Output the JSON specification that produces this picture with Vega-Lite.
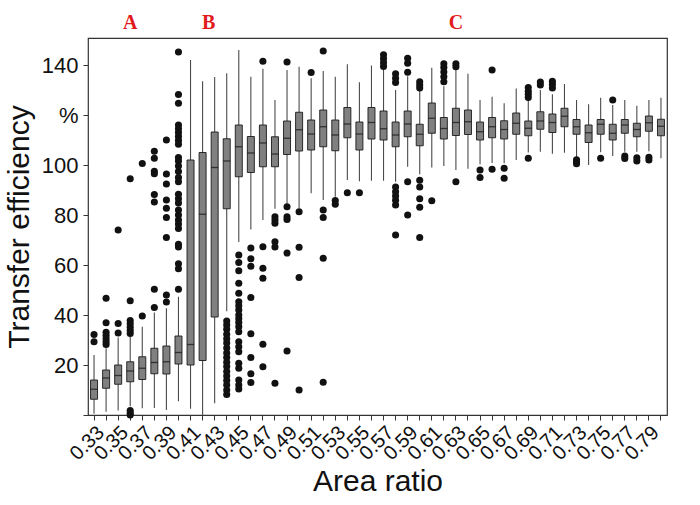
{
  "$schema": "https://vega.github.io/schema/vega-lite/v6.json",
  "width": 579,
  "height": 377,
  "autosize": {"type": "none"},
  "padding": {"left": 88, "top": 38, "right": 33, "bottom": 90},
  "config": {
    "view": {"stroke": "#333333", "strokeWidth": 1.2},
    "font": "Liberation Sans",
    "axis": {"grid": false, "domain": false, "tickColor": "#333333", "labelColor": "#111111", "titleColor": "#111111", "titleFontWeight": "normal"},
    "axisY": {
      "title": "Transfer efficiency",
      "titleFontSize": 30,
      "titlePadding": 7,
      "labelFontSize": 22,
      "labelPadding": 5,
      "tickSize": 5,
      "values": [0, 20, 40, 60, 80, 100, 120, 140],
      "labelExpr": "datum.value == 120 ? '%' : (datum.value == 0 ? '' : datum.label)"
    }
  },
  "datasets": {
    "boxes": [
      {"r": "0.33", "lo": 0.5, "q1": 6.3, "med": 10.3, "q3": 14, "hi": 24},
      {"r": "0.34", "lo": 1.3, "q1": 10.7, "med": 14.8, "q3": 18, "hi": 26.7},
      {"r": "0.35", "lo": 1.8, "q1": 12.3, "med": 15.8, "q3": 20, "hi": 31},
      {"r": "0.36", "lo": 3.5, "q1": 13.3, "med": 17.6, "q3": 21.3, "hi": 31.5},
      {"r": "0.37", "lo": 2.7, "q1": 14.2, "med": 18.7, "q3": 23.3, "hi": 35.3},
      {"r": "0.38", "lo": 2.8, "q1": 16.5, "med": 21, "q3": 26.7, "hi": 41},
      {"r": "0.39", "lo": 2, "q1": 16.4, "med": 21.3, "q3": 27.6, "hi": 42.7},
      {"r": "0.40", "lo": 5.5, "q1": 20.4, "med": 25, "q3": 31.6, "hi": 47.3},
      {"r": "0.41", "lo": 2.5, "q1": 20, "med": 28.2, "q3": 102, "hi": 142},
      {"r": "0.42", "lo": 0, "q1": 21.8, "med": 80.3, "q3": 105, "hi": 133.5},
      {"r": "0.43", "lo": 4.7, "q1": 39.2, "med": 99, "q3": 113.2, "hi": 135.2},
      {"r": "0.44", "lo": 41.5, "q1": 82.5, "med": 101.6, "q3": 110.5, "hi": 136.7},
      {"r": "0.45", "lo": 69.2, "q1": 95.3, "med": 107.3, "q3": 116, "hi": 146},
      {"r": "0.46", "lo": 74.2, "q1": 97, "med": 104.8, "q3": 111.4, "hi": 135.3},
      {"r": "0.47", "lo": 78, "q1": 99.3, "med": 108.8, "q3": 116, "hi": 138.5},
      {"r": "0.48", "lo": 82.5, "q1": 99.3, "med": 104.4, "q3": 111.3, "hi": 126},
      {"r": "0.49", "lo": 84.5, "q1": 104.2, "med": 110.7, "q3": 117.6, "hi": 138},
      {"r": "0.50", "lo": 82.7, "q1": 105.6, "med": 114.1, "q3": 121.1, "hi": 139.3},
      {"r": "0.51", "lo": 88.7, "q1": 106, "med": 112.4, "q3": 118, "hi": 134.7},
      {"r": "0.52", "lo": 86, "q1": 107.3, "med": 115.3, "q3": 122, "hi": 137.6},
      {"r": "0.53", "lo": 87.3, "q1": 105.7, "med": 112, "q3": 118, "hi": 135.3},
      {"r": "0.54", "lo": 94, "q1": 110.9, "med": 116.4, "q3": 123, "hi": 140.3},
      {"r": "0.55", "lo": 93.5, "q1": 106, "med": 112.4, "q3": 117.2, "hi": 133.1},
      {"r": "0.56", "lo": 93.7, "q1": 110.4, "med": 117, "q3": 123, "hi": 139.8},
      {"r": "0.57", "lo": 93.7, "q1": 110, "med": 114.5, "q3": 121.6, "hi": 138},
      {"r": "0.58", "lo": 93.3, "q1": 107.3, "med": 112, "q3": 117.2, "hi": 130},
      {"r": "0.59", "lo": 99.3, "q1": 111.3, "med": 116.4, "q3": 121.6, "hi": 135.5},
      {"r": "0.60", "lo": 96.3, "q1": 107.7, "med": 112.3, "q3": 116.3, "hi": 129.6},
      {"r": "0.61", "lo": 99, "q1": 112.7, "med": 118.7, "q3": 124.8, "hi": 138.9},
      {"r": "0.62", "lo": 99.6, "q1": 110.4, "med": 114.6, "q3": 119, "hi": 131.5},
      {"r": "0.63", "lo": 98, "q1": 111.8, "med": 117, "q3": 122.7, "hi": 138.2},
      {"r": "0.64", "lo": 98.5, "q1": 112.2, "med": 117.3, "q3": 122, "hi": 136.5},
      {"r": "0.65", "lo": 100.3, "q1": 110, "med": 113.3, "q3": 117.2, "hi": 126},
      {"r": "0.66", "lo": 100.8, "q1": 110.9, "med": 115.3, "q3": 119, "hi": 127.3},
      {"r": "0.67", "lo": 100.7, "q1": 110.4, "med": 114.2, "q3": 117.7, "hi": 124.7},
      {"r": "0.68", "lo": 102, "q1": 112.3, "med": 116.7, "q3": 120.8, "hi": 130.6},
      {"r": "0.69", "lo": 105, "q1": 111.7, "med": 114.7, "q3": 117.6, "hi": 126},
      {"r": "0.70", "lo": 105.3, "q1": 114.3, "med": 117.6, "q3": 121.3, "hi": 130},
      {"r": "0.71", "lo": 104.5, "q1": 113, "med": 117, "q3": 120.4, "hi": 128.3},
      {"r": "0.72", "lo": 104.9, "q1": 115.3, "med": 119.5, "q3": 122.7, "hi": 132.4},
      {"r": "0.73", "lo": 103.1, "q1": 112.3, "med": 115.3, "q3": 118.2, "hi": 126},
      {"r": "0.74", "lo": 100, "q1": 109, "med": 112.9, "q3": 116, "hi": 124.3},
      {"r": "0.75", "lo": 105.1, "q1": 112.3, "med": 116.3, "q3": 118.2, "hi": 126.9},
      {"r": "0.76", "lo": 103.6, "q1": 110, "med": 112.7, "q3": 116.3, "hi": 124},
      {"r": "0.77", "lo": 105.3, "q1": 112.7, "med": 116, "q3": 118.2, "hi": 126},
      {"r": "0.78", "lo": 105.3, "q1": 111.3, "med": 114.2, "q3": 116.7, "hi": 123.7},
      {"r": "0.79", "lo": 105.5, "q1": 113.5, "med": 116.9, "q3": 119.6, "hi": 126},
      {"r": "0.80", "lo": 102.7, "q1": 111.7, "med": 115.5, "q3": 118.3, "hi": 126.9}
    ],
    "outliers": [
      {"r": "0.33", "v": 32.2}, {"r": "0.33", "v": 29.3},
      {"r": "0.34", "v": 46.7}, {"r": "0.34", "v": 36.9}, {"r": "0.34", "v": 33.1}, {"r": "0.34", "v": 31.8}, {"r": "0.34", "v": 30.5}, {"r": "0.34", "v": 29.3}, {"r": "0.34", "v": 28.2},
      {"r": "0.35", "v": 74}, {"r": "0.35", "v": 36.6}, {"r": "0.35", "v": 32.8},
      {"r": "0.36", "v": 94.5}, {"r": "0.36", "v": 45.7}, {"r": "0.36", "v": 37.8}, {"r": "0.36", "v": 36.5}, {"r": "0.36", "v": 35.1}, {"r": "0.36", "v": 33.8}, {"r": "0.36", "v": 32.6}, {"r": "0.36", "v": 1.8}, {"r": "0.36", "v": 0.8}, {"r": "0.36", "v": 0},
      {"r": "0.37", "v": 100.6}, {"r": "0.37", "v": 39.6},
      {"r": "0.38", "v": 105.5}, {"r": "0.38", "v": 102.7}, {"r": "0.38", "v": 97.5}, {"r": "0.38", "v": 96.5}, {"r": "0.38", "v": 88.2}, {"r": "0.38", "v": 85.2}, {"r": "0.38", "v": 50.3}, {"r": "0.38", "v": 43},
      {"r": "0.39", "v": 110}, {"r": "0.39", "v": 96.4}, {"r": "0.39", "v": 92.4}, {"r": "0.39", "v": 86}, {"r": "0.39", "v": 82.7}, {"r": "0.39", "v": 79}, {"r": "0.39", "v": 71}, {"r": "0.39", "v": 48}, {"r": "0.39", "v": 45.2},
      {"r": "0.40", "v": 145.2}, {"r": "0.40", "v": 128.2}, {"r": "0.40", "v": 124.7}, {"r": "0.40", "v": 116}, {"r": "0.40", "v": 114.5}, {"r": "0.40", "v": 113}, {"r": "0.40", "v": 111.4}, {"r": "0.40", "v": 109.8}, {"r": "0.40", "v": 108.3}, {"r": "0.40", "v": 103}, {"r": "0.40", "v": 101.6}, {"r": "0.40", "v": 99.6}, {"r": "0.40", "v": 97.4}, {"r": "0.40", "v": 95}, {"r": "0.40", "v": 93.3}, {"r": "0.40", "v": 88.3}, {"r": "0.40", "v": 86.5}, {"r": "0.40", "v": 84.8}, {"r": "0.40", "v": 82}, {"r": "0.40", "v": 80}, {"r": "0.40", "v": 78}, {"r": "0.40", "v": 76.4}, {"r": "0.40", "v": 74.6}, {"r": "0.40", "v": 68.3}, {"r": "0.40", "v": 67.2}, {"r": "0.40", "v": 60.5}, {"r": "0.40", "v": 58.5}, {"r": "0.40", "v": 50.3},
      {"r": "0.44", "v": 37.6}, {"r": "0.44", "v": 36}, {"r": "0.44", "v": 34.3}, {"r": "0.44", "v": 32.3}, {"r": "0.44", "v": 30.5}, {"r": "0.44", "v": 28.8}, {"r": "0.44", "v": 26.8}, {"r": "0.44", "v": 24.8}, {"r": "0.44", "v": 23}, {"r": "0.44", "v": 21.1}, {"r": "0.44", "v": 19.4}, {"r": "0.44", "v": 17.4}, {"r": "0.44", "v": 15.6}, {"r": "0.44", "v": 13.8}, {"r": "0.44", "v": 12}, {"r": "0.44", "v": 10}, {"r": "0.44", "v": 8.2},
      {"r": "0.45", "v": 64}, {"r": "0.45", "v": 61}, {"r": "0.45", "v": 57.7}, {"r": "0.45", "v": 52.7}, {"r": "0.45", "v": 48.7}, {"r": "0.45", "v": 45.3}, {"r": "0.45", "v": 43.7}, {"r": "0.45", "v": 42}, {"r": "0.45", "v": 40}, {"r": "0.45", "v": 38.5}, {"r": "0.45", "v": 37}, {"r": "0.45", "v": 35.3}, {"r": "0.45", "v": 33.3}, {"r": "0.45", "v": 29.3}, {"r": "0.45", "v": 27.3}, {"r": "0.45", "v": 25.3}, {"r": "0.45", "v": 20.7}, {"r": "0.45", "v": 18.7}, {"r": "0.45", "v": 14}, {"r": "0.45", "v": 12}, {"r": "0.45", "v": 10.4},
      {"r": "0.46", "v": 66.8}, {"r": "0.46", "v": 62.5}, {"r": "0.46", "v": 59.5}, {"r": "0.46", "v": 47}, {"r": "0.46", "v": 32.5}, {"r": "0.46", "v": 23}, {"r": "0.46", "v": 16.5}, {"r": "0.46", "v": 13},
      {"r": "0.47", "v": 141.5}, {"r": "0.47", "v": 67.3}, {"r": "0.47", "v": 58.7}, {"r": "0.47", "v": 54.7}, {"r": "0.47", "v": 28.3}, {"r": "0.47", "v": 19.3},
      {"r": "0.48", "v": 79.3}, {"r": "0.48", "v": 78}, {"r": "0.48", "v": 76.7}, {"r": "0.48", "v": 69.3}, {"r": "0.48", "v": 67.2}, {"r": "0.48", "v": 12.7},
      {"r": "0.49", "v": 141.2}, {"r": "0.49", "v": 83.3}, {"r": "0.49", "v": 79.3}, {"r": "0.49", "v": 78.2}, {"r": "0.49", "v": 64.8}, {"r": "0.49", "v": 25.6},
      {"r": "0.50", "v": 81.3}, {"r": "0.50", "v": 67.1}, {"r": "0.50", "v": 55}, {"r": "0.50", "v": 10},
      {"r": "0.51", "v": 137},
      {"r": "0.52", "v": 145.6}, {"r": "0.52", "v": 82}, {"r": "0.52", "v": 79}, {"r": "0.52", "v": 62.7}, {"r": "0.52", "v": 13.1},
      {"r": "0.53", "v": 85.8}, {"r": "0.53", "v": 84.3},
      {"r": "0.54", "v": 88.9},
      {"r": "0.55", "v": 88.9},
      {"r": "0.57", "v": 144.1}, {"r": "0.57", "v": 142.5}, {"r": "0.57", "v": 140.9}, {"r": "0.57", "v": 139.4},
      {"r": "0.58", "v": 136.5}, {"r": "0.58", "v": 134.7}, {"r": "0.58", "v": 133}, {"r": "0.58", "v": 91.2}, {"r": "0.58", "v": 89.3}, {"r": "0.58", "v": 87.6}, {"r": "0.58", "v": 85.9}, {"r": "0.58", "v": 84}, {"r": "0.58", "v": 72},
      {"r": "0.59", "v": 142.7}, {"r": "0.59", "v": 140.7}, {"r": "0.59", "v": 137.1}, {"r": "0.59", "v": 93.3}, {"r": "0.59", "v": 80},
      {"r": "0.60", "v": 133.3}, {"r": "0.60", "v": 132}, {"r": "0.60", "v": 130.8}, {"r": "0.60", "v": 93.9}, {"r": "0.60", "v": 91.2}, {"r": "0.60", "v": 86.5}, {"r": "0.60", "v": 83.1}, {"r": "0.60", "v": 71},
      {"r": "0.61", "v": 85.7},
      {"r": "0.62", "v": 140.5}, {"r": "0.62", "v": 139}, {"r": "0.62", "v": 137.2}, {"r": "0.62", "v": 135.3}, {"r": "0.62", "v": 133.3},
      {"r": "0.63", "v": 140.5}, {"r": "0.63", "v": 139.3}, {"r": "0.63", "v": 93.3},
      {"r": "0.65", "v": 98}, {"r": "0.65", "v": 95},
      {"r": "0.66", "v": 138}, {"r": "0.66", "v": 98.3},
      {"r": "0.67", "v": 98.7}, {"r": "0.67", "v": 94.7},
      {"r": "0.69", "v": 131}, {"r": "0.69", "v": 129.5}, {"r": "0.69", "v": 128.3}, {"r": "0.69", "v": 127}, {"r": "0.69", "v": 102.7},
      {"r": "0.70", "v": 133.2}, {"r": "0.70", "v": 132},
      {"r": "0.71", "v": 133.5}, {"r": "0.71", "v": 132.3}, {"r": "0.71", "v": 130.8},
      {"r": "0.73", "v": 102.1}, {"r": "0.73", "v": 101.3}, {"r": "0.73", "v": 100.5},
      {"r": "0.75", "v": 102.7},
      {"r": "0.76", "v": 126},
      {"r": "0.77", "v": 103.6}, {"r": "0.77", "v": 102.6},
      {"r": "0.78", "v": 102.9}, {"r": "0.78", "v": 101.6},
      {"r": "0.79", "v": 103.1}, {"r": "0.79", "v": 102}
    ],
    "letters": [
      {"lab": "A", "r": "0.36", "v": 157},
      {"lab": "C", "r": "0.63", "v": 157}
    ],
    "letterB": [
      {"lab": "B", "r": "0.42", "v": 157}
    ]
  },
  "layer": [
    {
      "data": {"name": "boxes"},
      "mark": {"type": "rule", "color": "#4a4a4a", "strokeWidth": 1.1},
      "encoding": {
        "x": {
          "field": "r", "type": "ordinal",
          "scale": {"domain": ["0.33","0.34","0.35","0.36","0.37","0.38","0.39","0.40","0.41","0.42","0.43","0.44","0.45","0.46","0.47","0.48","0.49","0.50","0.51","0.52","0.53","0.54","0.55","0.56","0.57","0.58","0.59","0.60","0.61","0.62","0.63","0.64","0.65","0.66","0.67","0.68","0.69","0.70","0.71","0.72","0.73","0.74","0.75","0.76","0.77","0.78","0.79","0.80"], "paddingInner": 0, "paddingOuter": 0},
          "axis": {
            "title": "Area ratio",
            "titleFontSize": 30,
            "titlePadding": 3,
            "labelFontSize": 20,
            "labelAngle": -45,
            "labelOverlap": false,
            "labelPadding": 2,
            "tickSize": 5,
            "labelExpr": "round(toNumber(datum.value) * 100) % 2 == 1 ? datum.value : ''"
          }
        },
        "y": {"field": "lo", "type": "quantitative", "title": "Transfer efficiency", "scale": {"domain": [0, 150.8], "nice": false, "zero": true}},
        "y2": {"field": "hi"}
      }
    },
    {
      "data": {"name": "boxes"},
      "mark": {"type": "bar", "size": 7, "fill": "#808080", "stroke": "#1a1a1a", "strokeWidth": 0.9},
      "encoding": {
        "x": {"field": "r", "type": "ordinal", "title": "Area ratio"},
        "y": {"field": "q1", "type": "quantitative", "title": "Transfer efficiency", "scale": {"domain": [0, 150.8], "nice": false}},
        "y2": {"field": "q3"}
      }
    },
    {
      "data": {"name": "boxes"},
      "mark": {"type": "tick", "size": 7, "thickness": 1.3, "color": "#111111"},
      "encoding": {
        "x": {"field": "r", "type": "ordinal", "title": "Area ratio"},
        "y": {"field": "med", "type": "quantitative", "title": "Transfer efficiency", "scale": {"domain": [0, 150.8], "nice": false}}
      }
    },
    {
      "data": {"name": "outliers"},
      "mark": {"type": "circle", "size": 50, "color": "#111111", "opacity": 1},
      "encoding": {
        "x": {"field": "r", "type": "ordinal", "title": "Area ratio"},
        "y": {"field": "v", "type": "quantitative", "title": "Transfer efficiency", "scale": {"domain": [0, 150.8], "nice": false}}
      }
    },
    {
      "data": {"name": "letters"},
      "mark": {"type": "text", "font": "Liberation Serif", "fontWeight": "bold", "fontSize": 20, "color": "#e31a1c"},
      "encoding": {
        "x": {"field": "r", "type": "ordinal", "title": "Area ratio"},
        "y": {"field": "v", "type": "quantitative", "title": "Transfer efficiency", "scale": {"domain": [0, 150.8], "nice": false}},
        "text": {"field": "lab"}
      }
    },
    {
      "data": {"name": "letterB"},
      "mark": {"type": "text", "font": "Liberation Serif", "fontWeight": "bold", "fontSize": 20, "color": "#e31a1c"},
      "encoding": {
        "x": {"field": "r", "type": "ordinal", "bandPosition": 1, "title": "Area ratio"},
        "y": {"field": "v", "type": "quantitative", "title": "Transfer efficiency", "scale": {"domain": [0, 150.8], "nice": false}},
        "text": {"field": "lab"}
      }
    }
  ]
}
